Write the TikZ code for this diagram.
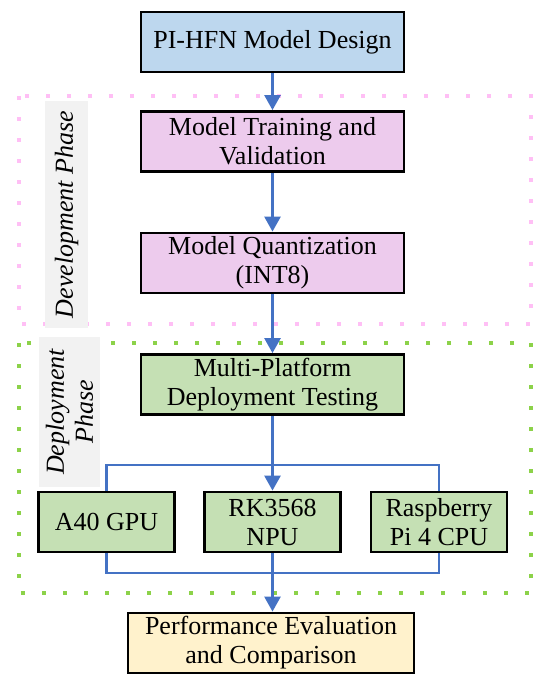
\documentclass[tikz,border=0pt]{standalone}
\usepackage{fontspec}
\setmainfont{Liberation Serif}
\usepackage{xcolor}
\usepackage{tikz}
\usetikzlibrary{arrows.meta}

\definecolor{flowblue}{HTML}{4472C4}
\definecolor{boxblue}{HTML}{BDD7EE}
\definecolor{boxpink}{HTML}{EDCBED}
\definecolor{boxgreen}{HTML}{C5E0B4}
\definecolor{boxyellow}{HTML}{FFF2CC}
\definecolor{dotpink}{HTML}{FFBFF5}
\definecolor{dotgreen}{HTML}{8CD249}
\definecolor{labelgray}{HTML}{F2F2F2}

\tikzset{
  stagebox/.style={draw=black, line width=1.4pt, align=center, inner sep=0pt,
    minimum width=131.5pt, minimum height=30pt,
    font=\fontsize{13}{14.5}\selectfont},
  hwbox/.style={stagebox, fill=boxgreen, minimum width=68pt},
  phasetag/.style={fill=labelgray, align=center, inner sep=0pt, rotate=90,
    font=\fontsize{13}{14.5}\selectfont\itshape},
  flow/.style={flowblue, line width=1.3pt, -{Triangle[length=7.5pt,width=8pt]}},
  wire/.style={flowblue, line width=1.3pt},
  region/.style={line width=1.9pt, dash pattern=on 1.9pt off 8.6pt}
}

\begin{document}
\begin{tikzpicture}[x=0.5pt, y=-0.5pt]
\useasboundingbox (0,0) rectangle (550,685);

% phase regions
\draw[region, dotpink] (19,96) rectangle (531,324);
\draw[region, dotgreen] (19,343) rectangle (531,593);
\node[phasetag, minimum width=113.5pt, minimum height=21.5pt] (devtag) at (66.5,214.5) {Development Phase};
\node[phasetag, minimum width=75pt, minimum height=30.5pt] (deptag) at (69.5,412) {Deployment\\Phase};

% stages
\node[stagebox, fill=boxblue] (design) at (272.5,42) {PI-HFN Model Design};
\node[stagebox, fill=boxpink] (train) at (272.5,141.5) {Model Training and\\Validation};
\node[stagebox, fill=boxpink] (quant) at (272.5,263) {Model Quantization\\(INT8)};
\node[stagebox, fill=boxgreen] (multi) at (272.5,384.5) {Multi-Platform\\Deployment Testing};
\node[hwbox] (gpu) at (106.5,522) {A40 GPU};
\node[hwbox] (npu) at (272.5,522) {RK3568\\NPU};
\node[hwbox] (cpu) at (439,522) {Raspberry\\Pi 4 CPU};
\node[stagebox, fill=boxyellow, minimum width=143pt] (perf) at (271,643) {Performance Evaluation\\and Comparison};

\coordinate (bustop) at (272.5,465);
\coordinate (busbot) at (272.5,573);

% connectors
\draw[flow] (design) -- (train);
\draw[flow] (train) -- (quant);
\draw[flow] (quant) -- (multi);
\draw[flow] (multi) -- (npu);
\draw[wire] (gpu.north) |- (bustop) -| (cpu.north);
\draw[wire] (gpu.south) |- (busbot) -| (cpu.south);
\draw[flow] (npu.south) -- (npu.south |- perf.north);
\end{tikzpicture}
\end{document}
